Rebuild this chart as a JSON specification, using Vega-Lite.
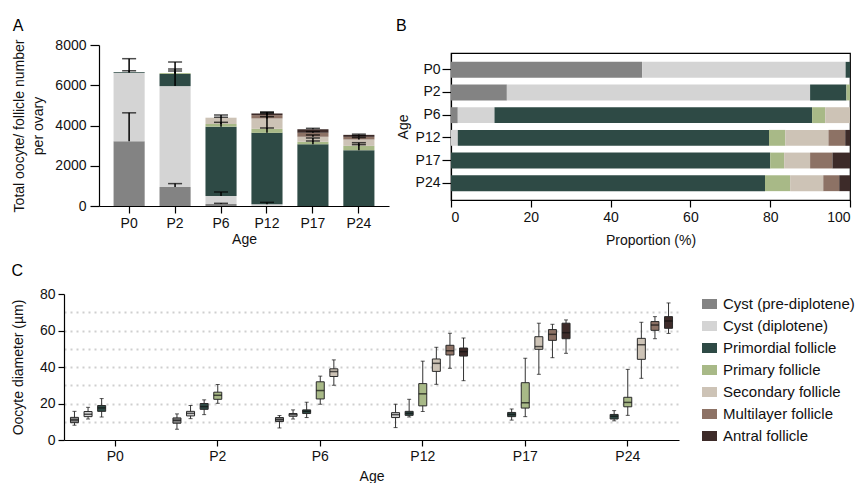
{
  "$schema": "https://vega.github.io/schema/vega-lite/v6.json",
  "padding": {"left": 11, "top": 17, "right": 0, "bottom": 0},
  "config": {
    "font": "Liberation Sans",
    "view": {"stroke": null},
    "axis": {"grid": false, "domainColor": "#000", "tickColor": "#000", "labelColor": "#111", "titleColor": "#111", "labelFontSize": 14, "titleFontSize": 14, "titleFontWeight": "normal", "tickSize": 5, "labelPadding": 3, "domainWidth": 1.2, "tickWidth": 1.2},
    "title": {"fontSize": 16, "fontWeight": "normal", "anchor": "start", "frame": "bounds", "color": "#000"}
  },
  "datasets": {
    "counts": [
      {"Age": "P0", "Stage": "Cyst (pre-diplotene)", "ord": 0, "n": 3220, "upper": 4630},
      {"Age": "P0", "Stage": "Cyst (diplotene)", "ord": 1, "n": 3400, "upper": 7320},
      {"Age": "P0", "Stage": "Primordial follicle", "ord": 2, "n": 35, "upper": 6720},
      {"Age": "P2", "Stage": "Cyst (pre-diplotene)", "ord": 0, "n": 946, "upper": 1112},
      {"Age": "P2", "Stage": "Cyst (diplotene)", "ord": 1, "n": 5012, "upper": 7155},
      {"Age": "P2", "Stage": "Primordial follicle", "ord": 2, "n": 600, "upper": 6807},
      {"Age": "P2", "Stage": "Primary follicle", "ord": 3, "n": 45, "upper": 6708},
      {"Age": "P6", "Stage": "Cyst (pre-diplotene)", "ord": 0, "n": 100, "upper": 133},
      {"Age": "P6", "Stage": "Cyst (diplotene)", "ord": 1, "n": 397, "upper": 696},
      {"Age": "P6", "Stage": "Primordial follicle", "ord": 2, "n": 3445, "upper": 4522},
      {"Age": "P6", "Stage": "Primary follicle", "ord": 3, "n": 133, "upper": 4158},
      {"Age": "P6", "Stage": "Secondary follicle", "ord": 4, "n": 313, "upper": 4410},
      {"Age": "P12", "Stage": "Cyst (diplotene)", "ord": 1, "n": 90, "upper": 180},
      {"Age": "P12", "Stage": "Primordial follicle", "ord": 2, "n": 3545, "upper": 4440},
      {"Age": "P12", "Stage": "Primary follicle", "ord": 3, "n": 199, "upper": 3876},
      {"Age": "P12", "Stage": "Secondary follicle", "ord": 4, "n": 515, "upper": 4606},
      {"Age": "P12", "Stage": "Multilayer  follicle", "ord": 5, "n": 166, "upper": 4671},
      {"Age": "P12", "Stage": "Antral follicle", "ord": 6, "n": 83, "upper": 4650},
      {"Age": "P17", "Stage": "Primordial follicle", "ord": 2, "n": 3071, "upper": 3230},
      {"Age": "P17", "Stage": "Primary follicle", "ord": 3, "n": 116, "upper": 3380},
      {"Age": "P17", "Stage": "Secondary follicle", "ord": 4, "n": 249, "upper": 3530},
      {"Age": "P17", "Stage": "Multilayer  follicle", "ord": 5, "n": 199, "upper": 3700},
      {"Age": "P17", "Stage": "Antral follicle", "ord": 6, "n": 182, "upper": 3860},
      {"Age": "P24", "Stage": "Primordial follicle", "ord": 2, "n": 2772, "upper": 3050},
      {"Age": "P24", "Stage": "Primary follicle", "ord": 3, "n": 216, "upper": 3146},
      {"Age": "P24", "Stage": "Secondary follicle", "ord": 4, "n": 315, "upper": 3400},
      {"Age": "P24", "Stage": "Multilayer  follicle", "ord": 5, "n": 133, "upper": 3495},
      {"Age": "P24", "Stage": "Antral follicle", "ord": 6, "n": 99, "upper": 3570}
    ],
    "props": [
      {"Age": "P0", "Stage": "Cyst (pre-diplotene)", "ord": 0, "pct": 47.9},
      {"Age": "P0", "Stage": "Cyst (diplotene)", "ord": 1, "pct": 51.0},
      {"Age": "P0", "Stage": "Primordial follicle", "ord": 2, "pct": 1.1},
      {"Age": "P2", "Stage": "Cyst (pre-diplotene)", "ord": 0, "pct": 14.0},
      {"Age": "P2", "Stage": "Cyst (diplotene)", "ord": 1, "pct": 76.0},
      {"Age": "P2", "Stage": "Primordial follicle", "ord": 2, "pct": 9.1},
      {"Age": "P2", "Stage": "Primary follicle", "ord": 3, "pct": 0.9},
      {"Age": "P6", "Stage": "Cyst (pre-diplotene)", "ord": 0, "pct": 1.7},
      {"Age": "P6", "Stage": "Cyst (diplotene)", "ord": 1, "pct": 9.2},
      {"Age": "P6", "Stage": "Primordial follicle", "ord": 2, "pct": 79.6},
      {"Age": "P6", "Stage": "Primary follicle", "ord": 3, "pct": 3.3},
      {"Age": "P6", "Stage": "Secondary follicle", "ord": 4, "pct": 6.2},
      {"Age": "P12", "Stage": "Cyst (diplotene)", "ord": 1, "pct": 1.7},
      {"Age": "P12", "Stage": "Primordial follicle", "ord": 2, "pct": 78.0},
      {"Age": "P12", "Stage": "Primary follicle", "ord": 3, "pct": 4.1},
      {"Age": "P12", "Stage": "Secondary follicle", "ord": 4, "pct": 10.8},
      {"Age": "P12", "Stage": "Multilayer  follicle", "ord": 5, "pct": 4.2},
      {"Age": "P12", "Stage": "Antral follicle", "ord": 6, "pct": 1.2},
      {"Age": "P17", "Stage": "Primordial follicle", "ord": 2, "pct": 80.0},
      {"Age": "P17", "Stage": "Primary follicle", "ord": 3, "pct": 3.5},
      {"Age": "P17", "Stage": "Secondary follicle", "ord": 4, "pct": 6.5},
      {"Age": "P17", "Stage": "Multilayer  follicle", "ord": 5, "pct": 5.6},
      {"Age": "P17", "Stage": "Antral follicle", "ord": 6, "pct": 4.4},
      {"Age": "P24", "Stage": "Primordial follicle", "ord": 2, "pct": 78.7},
      {"Age": "P24", "Stage": "Primary follicle", "ord": 3, "pct": 6.3},
      {"Age": "P24", "Stage": "Secondary follicle", "ord": 4, "pct": 8.3},
      {"Age": "P24", "Stage": "Multilayer  follicle", "ord": 5, "pct": 4.0},
      {"Age": "P24", "Stage": "Antral follicle", "ord": 6, "pct": 2.7}
    ],
    "boxes": [
      {"Age": "P0", "Stage": "Cyst (pre-diplotene)", "lo": 8.1, "q1": 9.5, "med": 11.0, "q3": 12.4, "hi": 15.7},
      {"Age": "P0", "Stage": "Cyst (diplotene)", "lo": 11.5, "q1": 12.8, "med": 14.1, "q3": 15.6, "hi": 17.9},
      {"Age": "P0", "Stage": "Primordial follicle", "lo": 12.6, "q1": 15.7, "med": 17.6, "q3": 18.9, "hi": 22.7},
      {"Age": "P2", "Stage": "Cyst (pre-diplotene)", "lo": 5.9, "q1": 9.2, "med": 10.8, "q3": 12.1, "hi": 14.3},
      {"Age": "P2", "Stage": "Cyst (diplotene)", "lo": 11.7, "q1": 13.2, "med": 14.6, "q3": 15.7, "hi": 18.9},
      {"Age": "P2", "Stage": "Primordial follicle", "lo": 13.9, "q1": 16.8, "med": 18.3, "q3": 20.0, "hi": 22.0},
      {"Age": "P2", "Stage": "Primary follicle", "lo": 20.1, "q1": 22.3, "med": 24.5, "q3": 26.2, "hi": 30.4},
      {"Age": "P6", "Stage": "Cyst (pre-diplotene)", "lo": 6.6, "q1": 10.1, "med": 11.2, "q3": 12.3, "hi": 13.4},
      {"Age": "P6", "Stage": "Cyst (diplotene)", "lo": 11.5, "q1": 13.0, "med": 13.9, "q3": 14.5, "hi": 16.5},
      {"Age": "P6", "Stage": "Primordial follicle", "lo": 12.3, "q1": 14.5, "med": 15.7, "q3": 16.5, "hi": 20.7},
      {"Age": "P6", "Stage": "Primary follicle", "lo": 19.6, "q1": 22.5, "med": 27.1, "q3": 31.9, "hi": 35.0},
      {"Age": "P6", "Stage": "Secondary follicle", "lo": 30.0, "q1": 34.8, "med": 37.5, "q3": 39.0, "hi": 43.9},
      {"Age": "P12", "Stage": "Cyst (diplotene)", "lo": 6.8, "q1": 12.3, "med": 13.9, "q3": 15.0, "hi": 19.6},
      {"Age": "P12", "Stage": "Primordial follicle", "lo": 12.6, "q1": 13.5, "med": 14.6, "q3": 15.7, "hi": 22.3},
      {"Age": "P12", "Stage": "Primary follicle", "lo": 15.6, "q1": 18.7, "med": 25.3, "q3": 30.9, "hi": 43.2},
      {"Age": "P12", "Stage": "Secondary follicle", "lo": 30.5, "q1": 37.6, "med": 42.0, "q3": 44.4, "hi": 50.8},
      {"Age": "P12", "Stage": "Multilayer  follicle", "lo": 39.3, "q1": 46.6, "med": 48.9, "q3": 51.9, "hi": 58.5},
      {"Age": "P12", "Stage": "Antral follicle", "lo": 32.5, "q1": 46.0, "med": 48.4, "q3": 50.4, "hi": 55.9},
      {"Age": "P17", "Stage": "Primordial follicle", "lo": 10.9, "q1": 12.8, "med": 14.0, "q3": 15.1, "hi": 17.0},
      {"Age": "P17", "Stage": "Primary follicle", "lo": 12.8, "q1": 17.5, "med": 20.4, "q3": 31.4, "hi": 44.8},
      {"Age": "P17", "Stage": "Secondary follicle", "lo": 36.0, "q1": 49.7, "med": 51.2, "q3": 56.6, "hi": 64.0},
      {"Age": "P17", "Stage": "Multilayer  follicle", "lo": 45.1, "q1": 54.6, "med": 57.9, "q3": 60.5, "hi": 63.4},
      {"Age": "P17", "Stage": "Antral follicle", "lo": 47.5, "q1": 55.5, "med": 58.8, "q3": 64.0, "hi": 65.8},
      {"Age": "P24", "Stage": "Primordial follicle", "lo": 10.5, "q1": 11.5, "med": 13.0, "q3": 14.0, "hi": 16.1},
      {"Age": "P24", "Stage": "Primary follicle", "lo": 13.5, "q1": 18.2, "med": 20.6, "q3": 23.4, "hi": 38.7},
      {"Age": "P24", "Stage": "Secondary follicle", "lo": 33.8, "q1": 44.2, "med": 52.2, "q3": 55.7, "hi": 64.5},
      {"Age": "P24", "Stage": "Multilayer  follicle", "lo": 55.5, "q1": 60.1, "med": 63.0, "q3": 64.9, "hi": 67.6},
      {"Age": "P24", "Stage": "Antral follicle", "lo": 58.4, "q1": 61.2, "med": 65.2, "q3": 67.6, "hi": 75.1}
    ]
  },
  "resolve": {"scale": {"color": "independent"}, "legend": {"color": "independent"}},
  "spacing": 15,
  "vconcat": [
    {
      "spacing": 6,
      "resolve": {"scale": {"color": "independent"}, "legend": {"color": "independent"}},
      "hconcat": [
        {
          "width": 325,
          "height": 153,
          "title": {"text": "A", "offset": 4},
          "data": {"name": "counts"},
          "encoding": {
            "x": {"field": "Age", "type": "nominal", "sort": ["P0", "P2", "P6", "P12", "P17", "P24"], "scale": {"range": [35, 325], "paddingInner": 0.323, "paddingOuter": 0.317}, "title": "Age", "axis": {"labelAngle": 0, "titlePadding": 2, "tickSize": 7}}
          },
          "layer": [
            {
              "mark": {"type": "bar"},
              "encoding": {
                "y": {"field": "n", "type": "quantitative", "stack": "zero", "title": ["Total oocyte/ follicle number", "per ovary"], "scale": {"domain": [0, 8000], "range": [153, -8], "nice": false}, "axis": {"values": [0, 2000, 4000, 6000, 8000], "tickCount": 10, "format": "d", "offset": -35, "tickSize": 9, "labelPadding": 4, "titlePadding": 9, "titleLineHeight": 19}},
                "color": {"field": "Stage", "type": "nominal", "legend": null, "scale": {"domain": ["Cyst (pre-diplotene)", "Cyst (diplotene)", "Primordial follicle", "Primary follicle", "Secondary follicle", "Multilayer  follicle", "Antral follicle"], "range": ["#838383", "#d4d4d4", "#2e4a45", "#a8b987", "#cdc3b6", "#8d7265", "#3d2b29"]}},
                "order": {"field": "ord", "type": "quantitative"}
              }
            },
            {
              "transform": [{"stack": "n", "groupby": ["Age"], "sort": [{"field": "ord", "order": "ascending"}], "as": ["s0", "s1"]}],
              "mark": {"type": "rule", "color": "#000", "strokeWidth": 1.5},
              "encoding": {
                "y": {"field": "s1", "type": "quantitative", "title": ["Total oocyte/ follicle number", "per ovary"]},
                "y2": {"field": "upper"}
              }
            },
            {
              "mark": {"type": "tick", "color": "#000", "thickness": 1.5, "size": 14},
              "encoding": {
                "y": {"field": "upper", "type": "quantitative", "title": ["Total oocyte/ follicle number", "per ovary"]}
              }
            }
          ]
        },
        {
          "width": 399,
          "height": 147,
          "view": {"stroke": "#000", "strokeWidth": 1.2},
          "title": {"text": "B", "offset": 19},
          "data": {"name": "props"},
          "mark": {"type": "bar"},
          "encoding": {
            "y": {"field": "Age", "type": "nominal", "sort": ["P0", "P2", "P6", "P12", "P17", "P24"], "scale": {"paddingInner": 0.3, "paddingOuter": 0.39}, "title": "Age", "axis": {"titlePadding": 5, "tickSize": 9, "labelPadding": 2}},
            "x": {"field": "pct", "type": "quantitative", "stack": "zero", "title": "Proportion (%)", "scale": {"domain": [0, 100], "nice": false}, "axis": {"values": [0, 20, 40, 60, 80, 100], "tickCount": 20, "titlePadding": 9, "tickSize": 7}},
            "color": {"field": "Stage", "type": "nominal", "legend": null, "scale": {"domain": ["Cyst (pre-diplotene)", "Cyst (diplotene)", "Primordial follicle", "Primary follicle", "Secondary follicle", "Multilayer  follicle", "Antral follicle"], "range": ["#838383", "#d4d4d4", "#2e4a45", "#a8b987", "#cdc3b6", "#8d7265", "#3d2b29"]}},
            "order": {"field": "ord", "type": "quantitative"}
          }
        }
      ]
    },
    {
      "width": 615,
      "height": 146,
      "title": {"text": "C", "offset": 8},
      "data": {"name": "boxes"},
      "encoding": {
        "x": {"field": "Age", "type": "nominal", "sort": ["P0", "P2", "P6", "P12", "P17", "P24"], "scale": {"paddingInner": 0, "paddingOuter": 0}, "title": "Age", "axis": {"labelAngle": 0, "titlePadding": 6, "tickSize": 6}},
        "xOffset": {"field": "Stage", "type": "nominal", "scale": {"domain": ["Cyst (pre-diplotene)", "Cyst (diplotene)", "Primordial follicle", "Primary follicle", "Secondary follicle", "Multilayer  follicle", "Antral follicle"], "paddingInner": 0, "paddingOuter": 0.27}}
      },
      "layer": [
        {
          "mark": {"type": "rule", "color": "#333", "strokeWidth": 1},
          "encoding": {
            "y": {"field": "lo", "type": "quantitative", "title": "Oocyte diameter (µm)", "scale": {"domain": [0, 80], "nice": false},
              "axis": {"values": [0, 10, 20, 30, 40, 50, 60, 70, 80], "tickCount": 20, "titlePadding": 14, "tickSize": 6, "grid": true, "gridColor": "#cfcfcf", "gridDash": [2, 4], "gridWidth": 2,
                "gridOpacity": {"condition": {"test": "datum.value == 0 || datum.value == 80", "value": 0}, "value": 1},
                "tickOpacity": {"condition": {"test": "datum.value % 20 != 0", "value": 0}, "value": 1},
                "labelExpr": "datum.value % 20 == 0 ? datum.label : ''"}},
            "y2": {"field": "hi"}
          }
        },
        {
          "mark": {"type": "tick", "color": "#111", "size": 4, "thickness": 1},
          "encoding": {"y": {"field": "lo", "type": "quantitative", "title": "Oocyte diameter (µm)"}}
        },
        {
          "mark": {"type": "tick", "color": "#111", "size": 4, "thickness": 1},
          "encoding": {"y": {"field": "hi", "type": "quantitative", "title": "Oocyte diameter (µm)"}}
        },
        {
          "mark": {"type": "bar", "width": 8, "stroke": "#2a2a2a", "strokeWidth": 1},
          "encoding": {
            "y": {"field": "q1", "type": "quantitative", "title": "Oocyte diameter (µm)"},
            "y2": {"field": "q3"},
            "color": {"field": "Stage", "type": "nominal",
              "scale": {"domain": ["Cyst (pre-diplotene)", "Cyst (diplotene)", "Primordial follicle", "Primary follicle", "Secondary follicle", "Multilayer  follicle", "Antral follicle"], "range": ["#838383", "#d4d4d4", "#2e4a45", "#a8b987", "#cdc3b6", "#8d7265", "#3d2b29"]},
              "legend": {"title": null, "orient": "none", "legendX": 638, "legendY": 2.5, "padding": 0, "direction": "vertical", "columns": 1, "symbolType": "M-1,-0.67H1V0.67H-1Z", "symbolSize": 225, "symbolStrokeWidth": 0, "labelFontSize": 15, "labelOffset": 6, "rowPadding": 6, "labelColor": "#111"}}
          }
        },
        {
          "mark": {"type": "tick", "color": "#111", "size": 8, "thickness": 1.5},
          "encoding": {"y": {"field": "med", "type": "quantitative", "title": "Oocyte diameter (µm)"}}
        }
      ]
    }
  ]
}
